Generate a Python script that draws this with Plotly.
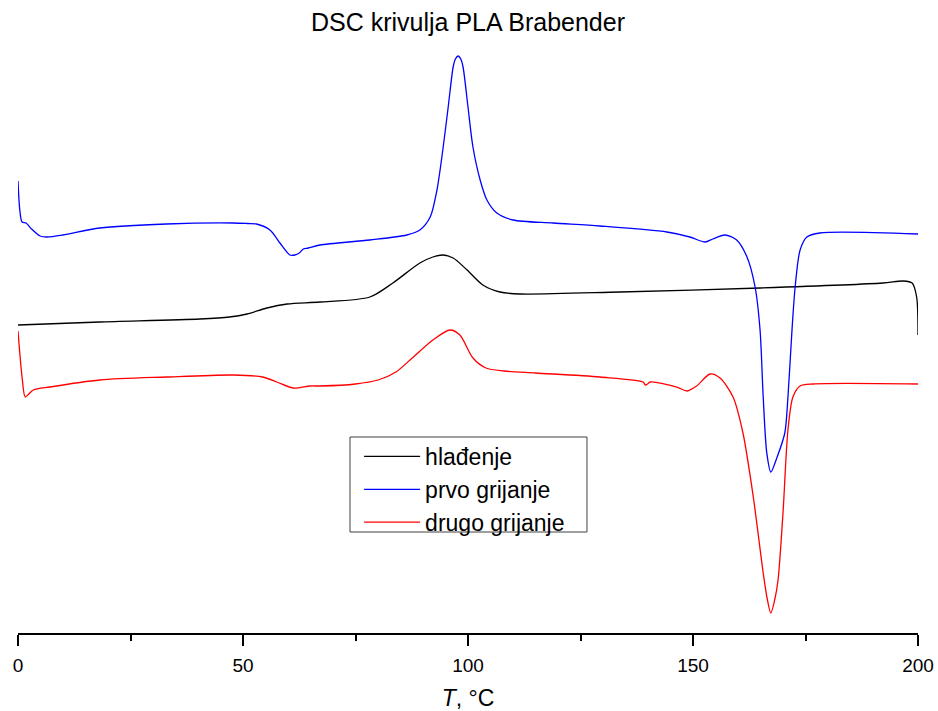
import plotly.graph_objects as go

# Temperature (°C) and heat-flow signal (arbitrary units, offset curves)
T_hladenje = [0, 18.2, 40.4, 47, 50.9, 55.3, 59.8, 67.1, 78.2, 83.3, 89.3, 92.2, 94.4, 96.7,
              99.8, 103.3, 107.1, 111.6, 133.8, 164.9, 192.2, 196.7, 198.7, 199.7, 200]
y_hladenje = [308, 311, 314, 316, 319, 325, 329, 331, 336, 350, 370, 376, 378, 375,
              363, 348, 341, 339, 341, 345, 350, 352, 350, 336, 298]

T_prvo = [0, 0.4, 0.9, 1.8, 3, 4.9, 6.4, 10, 18.2, 33, 47.8, 51, 53, 56, 58.2, 60.4, 61.5,
          62.5, 63.4, 64.5, 67.1, 78.2, 86.4, 89.3, 91.6, 93.1, 94.4, 95.6, 96.7, 97.2, 97.8,
          98.4, 98.9, 100, 101.1, 102.7, 104.2, 106.4, 110, 118.9, 129.3, 144.2, 149.3, 152.7,
          154.4, 157.1, 159.7, 162, 163.8, 164.9, 165.6, 166.4, 167.3, 168.7, 170.4, 171.1,
          172, 172.7, 173.8, 175.3, 178.2, 200]
y_prvo = [452, 423, 411, 410, 404, 397, 396, 398, 405, 409, 410, 409.5, 409, 403, 390, 378, 378,
          380, 384, 385, 388, 393, 398, 403, 416, 443, 483, 526, 566, 574, 577,
          574, 566, 526, 486, 453, 433, 420, 413, 410, 407, 401, 396, 391,
          394, 398, 393, 376, 346, 303, 236, 180, 161, 176, 200, 236,
          303, 346, 383, 396, 400, 399]

T_drugo = [0, 0.9, 1.6, 2.4, 3.4, 7.1, 18.2, 33, 47.8, 54.4, 57.5, 61.1, 64.9, 67.1, 75, 80,
           84, 87.6, 92.2, 96, 98.2, 101.1, 104, 108, 115, 129.3, 138.9, 139.4, 139.9, 140.5,
           146.4, 148.7, 150.8, 153.8, 156, 158.9, 161.1, 163.4, 165.6, 166.5, 167.3, 168.2,
           168.9, 170, 171.1, 172.2, 173.8, 176.7, 200]
y_drugo = [302, 256, 236, 239, 243, 246, 253, 256, 258, 256, 251, 245, 247, 247, 249, 253,
           261, 275, 293, 303, 298, 275, 265, 262, 260, 256, 251, 248, 249, 251,
           246, 242, 247, 259, 255, 236, 200, 136, 60, 34, 20, 34,
           53, 120, 203, 236, 247, 249, 249]

series = [
    ("hlađenje", T_hladenje, y_hladenje, "#000000"),
    ("prvo grijanje", T_prvo, y_prvo, "#0000ff"),
    ("drugo grijanje", T_drugo, y_drugo, "#ff0000"),
]

x_ticks = [0, 50, 100, 150, 200]
x_minor = [25, 75, 125, 175]

FONT = "Liberation Sans, Arial, sans-serif"

fig = go.Figure()
for name, x, y, c in series:
    fig.add_trace(go.Scatter(x=x, y=y, mode="lines", name=name,
                             line=dict(color=c, width=1.3, shape="spline", smoothing=0.8)))

fig.update_layout(
    width=938, height=711,
    margin=dict(l=18, r=20, t=40, b=78),
    paper_bgcolor="white", plot_bgcolor="white",
    font=dict(family=FONT, size=19, color="black"),
    title=dict(text="DSC krivulja PLA Brabender", x=0.5, xref="paper", xanchor="center",
               y=1 - 22 / 711, yanchor="middle", font=dict(size=25, family=FONT)),
    showlegend=True,
    legend=dict(x=0.379, y=0.334, xanchor="left", yanchor="top",
                borderwidth=0, bgcolor="rgba(0,0,0,0)",
                itemwidth=56, font=dict(size=23, family=FONT)),
    xaxis=dict(range=[0, 200], tickvals=x_ticks, ticks="outside", ticklen=11, tickwidth=1.5,
               tickcolor="black", showline=True, linecolor="black", linewidth=2,
               showgrid=False, zeroline=False, ticklabelstandoff=3, automargin=False,
               minor=dict(tickvals=x_minor, ticks="outside", ticklen=6,
                          tickwidth=1.5, tickcolor="black", showgrid=False),
               tickfont=dict(size=19, family=FONT),
               title=dict(text="<i>T</i>, °C", font=dict(size=23, family=FONT), standoff=20)),
    yaxis=dict(range=[0, 593], visible=False, showgrid=False, zeroline=False, automargin=False),
)

# legend frame
fig.add_shape(type="rect", xref="paper", yref="paper", x0=0.3689, x1=0.6322, y0=0.1703, y1=0.3305,
              line=dict(color="#404040", width=1), fillcolor="white", layer="below")

fig.write_html("out.html", config={"displayModeBar": False},
               post_script="document.body.style.margin='0';")
